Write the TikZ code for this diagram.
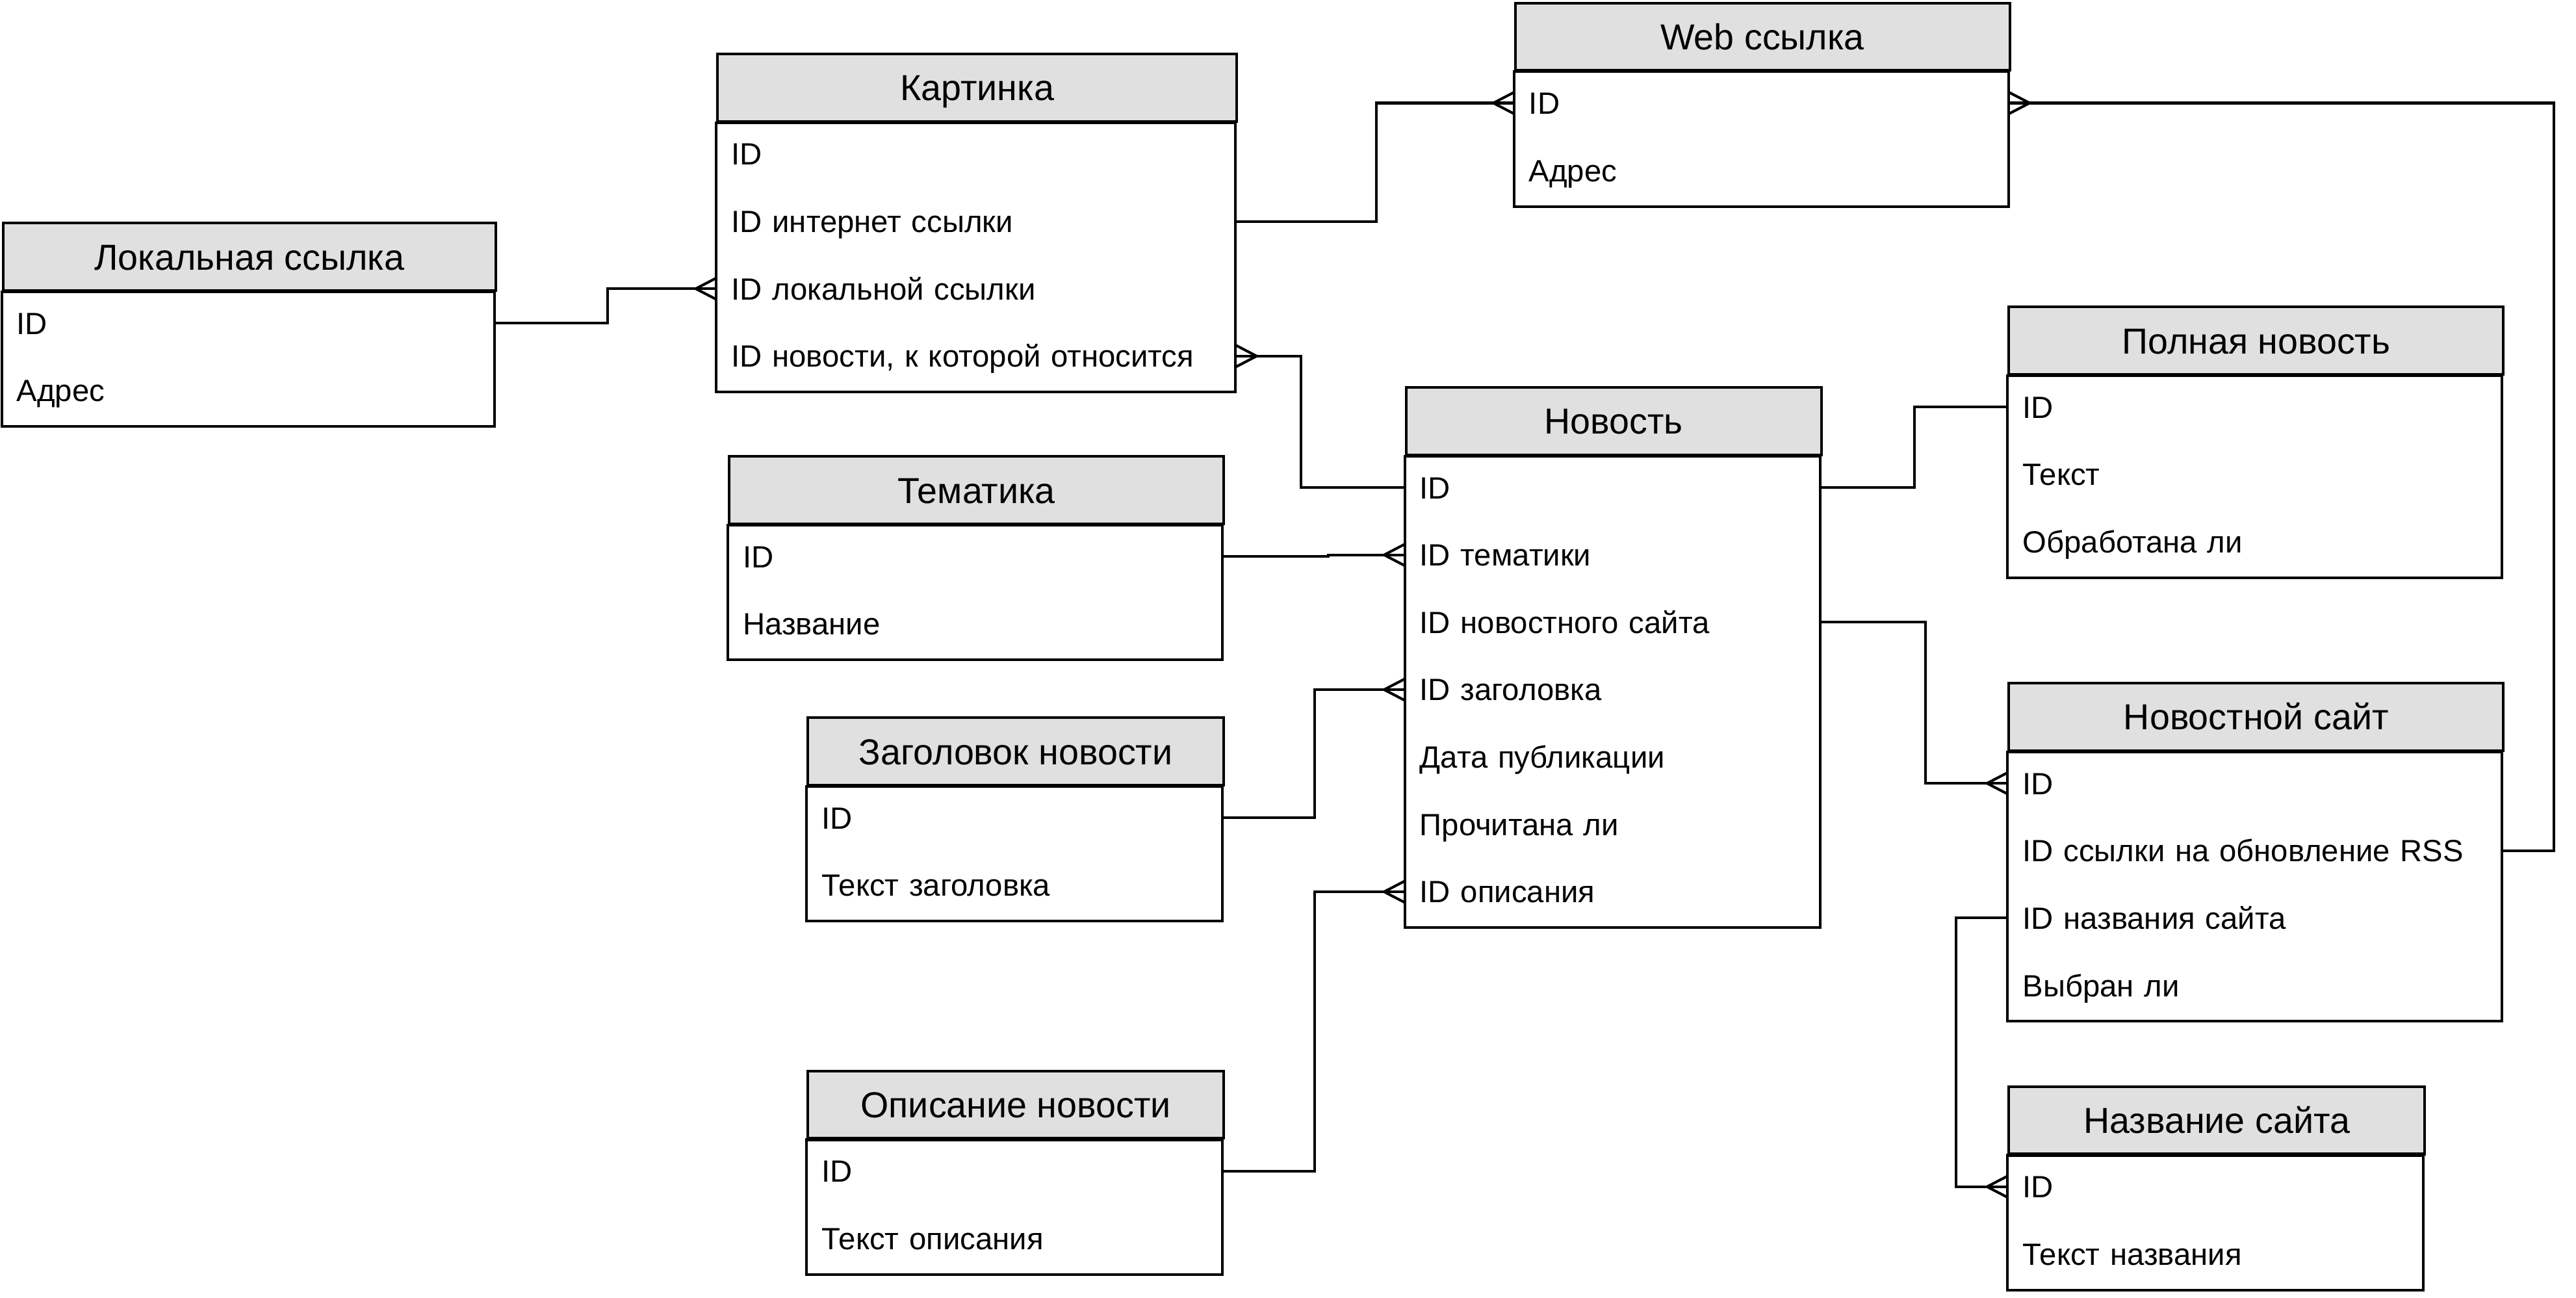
\documentclass[tikz,border=0pt]{standalone}
\usepackage{fontspec}
\setmainfont{Liberation Sans}
\usetikzlibrary{calc}
\definecolor{hdr}{HTML}{E0E0E0}
\tikzset{
  erhead/.style={draw, fill=hdr, line width=1.6pt, minimum height=41pt, inner sep=0pt,
    font=\fontsize{22}{26}\selectfont, text height=15.8pt, text depth=0pt, anchor=north west},
  errow/.style={inner xsep=9pt, inner ysep=0pt, minimum height=41pt,
    font=\fontsize{18.7}{23}\selectfont, text height=13.4pt, text depth=0pt, align=left, anchor=north west},
  erbody/.style={draw, line width=1.6pt},
  conn/.style={line width=1.6pt},
}
% #1 name, #2 left x, #3 top y, #4 width, #5 number of rows, #6 title, #7 rows
\newcommand\erent[7]{%
  \pgfmathsetmacro\ertw{#4-18}%
  \node[erhead, minimum width=#4pt] (#1) at (#2,#3) {#6};
  \draw[erbody] (#1.south west) rectangle ++(#4,#5*41);
  \foreach \ertxt [count=\erk] in {#7} {
    \node[errow, text width=\ertw pt] (#1-\erk) at (#2,{#3+41*\erk}) {\ertxt};
  }
}
\newcommand\crowW[1]{\draw[conn] ($(#1)+(0,-6.5)$) -- ($(#1)+(-12.5,0)$) -- ($(#1)+(0,6.5)$);}
\newcommand\crowE[1]{\draw[conn] ($(#1)+(0,-6.5)$) -- ($(#1)+(12.5,0)$) -- ($(#1)+(0,6.5)$);}
\begin{document}
\begin{tikzpicture}[x=1pt,y=-1pt]
\useasboundingbox (0,0) rectangle (1568,789.6);

\erent{lok}{1}{135}{300}{2}{Локальная ссылка}{ID, Адрес}
\erent{kart}{436}{32}{316}{4}{Картинка}{ID, ID интернет ссылки, ID локальной ссылки, {ID новости, к которой относится}}
\erent{web}{921.5}{1}{301}{2}{Web ссылка}{ID, Адрес}
\erent{full}{1222}{186}{301}{3}{Полная новость}{ID, Текст, Обработана ли}
\erent{news}{855}{235}{253}{7}{Новость}{ID, ID тематики, ID новостного сайта, ID заголовка, Дата публикации, Прочитана ли, ID описания}
\erent{tem}{443}{277}{301}{2}{Тематика}{ID, Название}
\erent{zag}{491}{436}{253}{2}{Заголовок новости}{ID, Текст заголовка}
\erent{opis}{491}{651}{253}{2}{Описание новости}{ID, Текст описания}
\erent{site}{1222}{415}{301}{4}{Новостной сайт}{ID, ID ссылки на обновление RSS, ID названия сайта, Выбран ли}
\erent{name}{1222}{660.5}{253}{2}{Название сайта}{ID, Текст названия}

% connectors
\draw[conn] (lok-1.east) -- ++(68.3,0) |- (kart-3.west);
\crowW{kart-3.west}
\draw[conn] (kart-2.east) -- ++(85.4,0) |- (web-1.west);
\crowW{web-1.west}
\draw[conn] (web-1.east) -- ++(331.5,0) |- (site-2.east);
\crowE{web-1.east}
\draw[conn] (kart-4.east) -- ++(39.5,0) |- (news-1.west);
\crowE{kart-4.east}
\draw[conn] (tem-1.east) -- ++(64,0) |- (news-2.west);
\crowW{news-2.west}
\draw[conn] (zag-1.east) -- ++(55.8,0) |- (news-4.west);
\crowW{news-4.west}
\draw[conn] (opis-1.east) -- ++(55.8,0) |- (news-7.west);
\crowW{news-7.west}
\draw[conn] (news-1.east) -- ++(57,0) |- (full-1.west);
\draw[conn] (news-3.east) -- ++(63.6,0) |- (site-1.west);
\crowW{site-1.west}
\draw[conn] (site-3.west) -- ++(-31.5,0) |- (name-1.west);
\crowW{name-1.west}
\end{tikzpicture}
\end{document}
